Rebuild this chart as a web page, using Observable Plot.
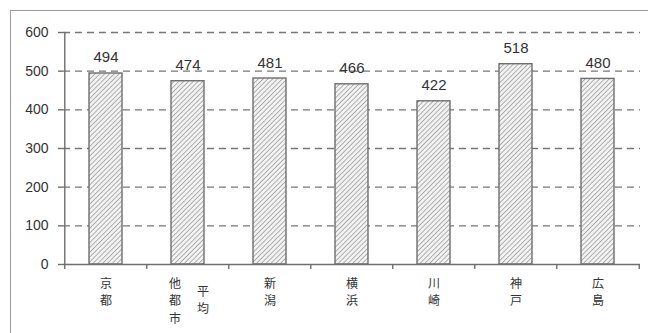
<!DOCTYPE html>
<html>
<head>
<meta charset="utf-8">
<script src="https://cdn.jsdelivr.net/npm/d3@7"></script>
<script src="https://cdn.jsdelivr.net/npm/@observablehq/plot@0.6"></script>
<style>
  html, body { margin: 0; padding: 0; background: #fff; }
  #wrap { position: relative; width: 648px; height: 333px; overflow: hidden; }
  #border { position: absolute; left: 10px; top: 10px; width: 700px; height: 400px;
            border-left: 1.5px solid #9a9a9a; border-top: 1.5px solid #9a9a9a; box-sizing: border-box; }
  #chart { position: absolute; left: 0; top: 0; }
</style>
</head>
<body>
<div id="wrap"><div id="border"></div><div id="chart"></div></div>
<script>
// Data
const cities = ["京都", "他都市平均", "新潟", "横浜", "川崎", "神戸", "広島"];
const values = [494, 474, 481, 466, 422, 518, 480];
// vertical label columns
const labelCol1 = ["京都", "他都市", "新潟", "横浜", "川崎", "神戸", "広島"];
const labelCol2 = ["", "平均", "", "", "", "", ""];
const yTicks = [0, 100, 200, 300, 400, 500, 600];
const gridTicks = [100, 200, 300, 400, 500, 600];

const data = cities.map((c, i) => ({city: c, value: values[i], col1: labelCol1[i], col2: labelCol2[i]}));
const vert = s => Array.from(s).join("\n");

const W = 648, H = 333;
const mL = 63, mR = 8, mT = 32, mB = 69;
const step = (W - mL - mR) / cities.length;

const textColor = "#333";
const font = "'Noto Sans CJK JP', 'Liberation Sans', sans-serif";
const numFont = "'Liberation Sans', Arial, sans-serif";
const axisColor = "#6e6e6e";
const catSize = 12, catLH = 1.45;

const chart = Plot.plot({
  width: W, height: H,
  marginLeft: mL, marginRight: mR, marginTop: mT, marginBottom: mB,
  style: {background: "transparent", color: textColor},
  x: {domain: cities, paddingInner: 0.6, paddingOuter: 0.3, axis: null},
  y: {domain: [0, 600], axis: null},
  marks: [
    // dashed gridlines
    Plot.ruleY(gridTicks, {stroke: "#777", strokeWidth: 1.3, strokeDasharray: "7,5"}),
    // bars
    Plot.barY(data, {x: "city", y: "value", fill: "url(#hatch)", stroke: axisColor, strokeWidth: 1.4}),
    // y axis
    Plot.ruleX([0], {x: () => cities[0], dx: -step / 2, y1: 0, y2: 600, stroke: axisColor, strokeWidth: 1.4}),
    Plot.axisY({ticks: yTicks, tickSize: 5, tickPadding: 10, tickFormat: d => String(d), label: null,
      fontSize: 14, fontFamily: numFont, stroke: axisColor, strokeWidth: 1.4, fill: "#333"}),
    // x axis line
    Plot.ruleY([0], {stroke: axisColor, strokeWidth: 1.4}),
    // x ticks at band boundaries
    Plot.ruleX(cities, {x: d => d, y1: 0, y2: 0, insetBottom: -5, dx: -step / 2, stroke: axisColor, strokeWidth: 1.4}),
    Plot.ruleX([cities[cities.length - 1]], {x: d => d, y1: 0, y2: 0, insetBottom: -5, dx: step / 2, stroke: axisColor, strokeWidth: 1.4}),
    // value labels
    Plot.text(data, {x: "city", y: "value", text: d => String(d.value), lineAnchor: "bottom", dy: -11,
      fontSize: 15, fontFamily: numFont, fill: "#333"}),
    // category labels (vertical)
    Plot.text(data.filter(d => !d.col2), {x: "city", y: () => 0, text: d => vert(d.col1), lineAnchor: "top",
      dy: 11, lineHeight: catLH, fontSize: catSize, fontFamily: font, fill: "#333"}),
    Plot.text(data.filter(d => d.col2), {x: "city", y: () => 0, text: d => vert(d.col1), lineAnchor: "top",
      dy: 11, dx: -13, lineHeight: catLH, fontSize: catSize, fontFamily: font, fill: "#333"}),
    Plot.text(data.filter(d => d.col2), {x: "city", y: () => 0, text: d => vert(d.col2), lineAnchor: "top",
      dy: 19, dx: 15, lineHeight: catLH, fontSize: catSize, fontFamily: font, fill: "#333"})
  ]
});

// hatch pattern definition
const defs = d3.select(chart).insert("defs", ":first-child");
const pat = defs.append("pattern").attr("id", "hatch").attr("patternUnits", "userSpaceOnUse")
  .attr("width", 3.4).attr("height", 3.4).attr("patternTransform", "rotate(45)");
pat.append("rect").attr("width", 3.4).attr("height", 3.4).attr("fill", "#f2f2f2");
pat.append("line").attr("x1", 0).attr("y1", 0).attr("x2", 0).attr("y2", 3.4)
  .attr("stroke", "#7a7a7a").attr("stroke-width", 1.1);

document.getElementById("chart").appendChild(chart);
</script>
</body>
</html>
